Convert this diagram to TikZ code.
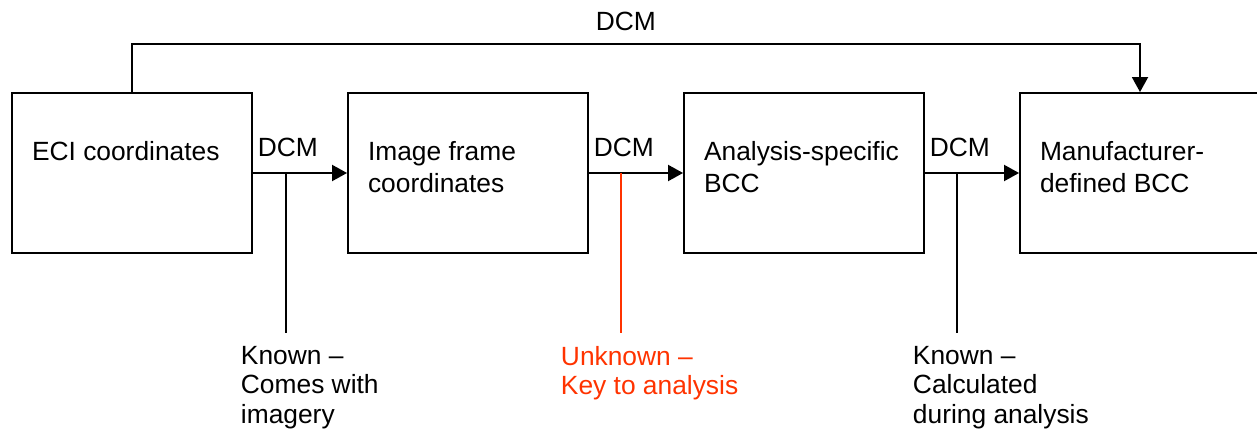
\documentclass[tikz,border=0pt]{standalone}
\usepackage{fontspec}
\setmainfont{Liberation Sans}
\usetikzlibrary{arrows.meta}
\definecolor{keyred}{RGB}{255,51,0}
\begin{document}
\begin{tikzpicture}[x=0.02cm, y=-0.02cm, line width=1.1pt,
    font=\fontsize{15}{17}\selectfont,
    >={Triangle[length=0.3cm,width=0.32cm]},
    blk/.style={draw, minimum width=4.8cm, minimum height=3.2cm, inner sep=0},
    txt/.style={anchor=north west, inner sep=0, align=left, xshift=0.4cm, yshift=-0.96cm,
        font=\fontsize{15}{18.2}\selectfont},
    dcmlbl/.style={anchor=base west, inner sep=0, xshift=0.08cm, yshift=0.34cm},
    note/.style={anchor=north west, inner sep=0, align=left}]
        \useasboundingbox (0,0) rectangle (1257,432);

        % Frames
        \node[blk, label={[txt]north west:ECI coordinates}] (eci) at (132,173) {};
        \node[blk, label={[txt]north west:Image frame\\coordinates}] (img) at (468,173) {};
        \node[blk, label={[txt]north west:Analysis-specific\\BCC}] (bcc) at (804,173) {};
        \node[blk, label={[txt]north west:Manufacturer-\\defined BCC}] (mfr) at (1140,173) {};

        % DCM connections
        \draw[->] (eci.east) -- node[dcmlbl, at start] {DCM} (img.west);
        \draw[->] (img.east) -- node[dcmlbl, at start] {DCM} (bcc.west);
        \draw[->] (bcc.east) -- node[dcmlbl, at start] {DCM} (mfr.west);
        \draw[->] (eci.north) -- ++(0,-48) -| node[pos=0.245, anchor=base, inner sep=0, yshift=0.28cm] {DCM} (mfr.north);

        % Notes
        \node[note] (n1) at (240,345) {Known --\\Comes with\\imagery};
        \node[note, text=keyred] (n2) at (560,345) {Unknown --\\Key to analysis};
        \node[note] (n3) at (912,345) {Known --\\Calculated\\during analysis};

        \coordinate (c1) at (286,173);
        \coordinate (c2) at (621,173);
        \coordinate (c3) at (957,173);
        \draw (c1) -- (c1 |- 0,333);
        \draw[keyred] (c2) -- (c2 |- 0,333);
        \draw (c3) -- (c3 |- 0,333);
    \end{tikzpicture}
\end{document}
